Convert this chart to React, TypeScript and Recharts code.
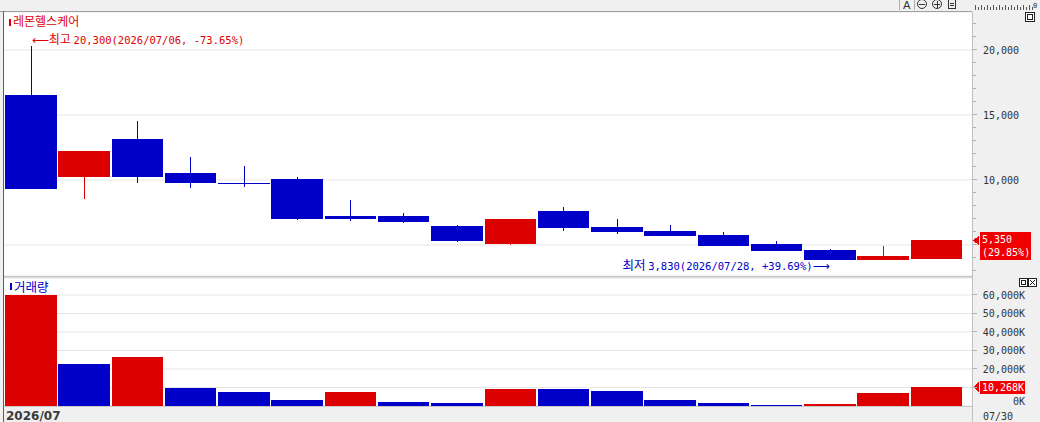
import React from 'react';
import { ComposedChart, Bar, XAxis, YAxis, ReferenceLine, ReferenceDot, CartesianGrid } from 'recharts';

const stockName = '레몬헬스케어';
const volumeName = '거래량';
const monthLabel = '2026/07';
const lastDateLabel = '07/30';

const dates = [
  '2026/07/06', '2026/07/07', '2026/07/08', '2026/07/09', '2026/07/10', '2026/07/13',
  '2026/07/14', '2026/07/15', '2026/07/16', '2026/07/20', '2026/07/21', '2026/07/22',
  '2026/07/23', '2026/07/24', '2026/07/27', '2026/07/28', '2026/07/29', '2026/07/30',
];
const opens = [16550, 10200, 13150, 10550, 9800, 10100, 7250, 7250, 6450, 5100, 7600, 6400, 6100, 5750, 5100, 4600, 3850, 3950];
const highs = [20300, 12250, 14550, 11750, 11100, 10250, 8450, 7450, 6550, 7000, 7900, 7000, 6550, 6000, 5300, 4700, 4900, 5350];
const lows = [9300, 8500, 9800, 9350, 9450, 6950, 6850, 6700, 5250, 5000, 6100, 5850, 5700, 4950, 4550, 3830, 3850, 3950];
const closes = [9300, 12250, 10200, 9800, 9790, 7000, 7000, 6750, 5300, 7000, 6300, 6000, 5700, 4950, 4550, 3850, 4120, 5350];
// volume in thousands of shares (K)
const volumes = [59800, 22700, 26700, 9500, 7400, 3000, 7300, 1900, 1850, 9000, 8950, 7900, 3000, 1400, 800, 900, 6800, 10268];

const priceTicks = [3000, 4000, 5000, 6000, 7000, 8000, 9000, 10000, 11000, 12000, 13000, 14000, 15000, 16000, 17000, 18000, 19000, 20000, 21000, 22000];
const priceGrid = [5000, 10000, 15000, 20000];
const volumeTicks = [0, 10000, 20000, 30000, 40000, 50000, 60000];
const volumeGrid = [10000, 20000, 30000, 40000, 50000, 60000];

const PRICE_DOMAIN = [2615, 22923];
const VOLUME_DOMAIN = [0, 69189];

const RED = '#dc0000';
const BLUE = '#0000c8';
const TAG = '#f00000';
const MONO = "'DejaVu Sans Mono', monospace";
const KR = "'Noto Sans CJK KR', sans-serif";

const rows = dates.map((date, i) => ({
  date,
  open: opens[i],
  high: highs[i],
  low: lows[i],
  close: closes[i],
  range: [lows[i], highs[i]],
  vol: volumes[i],
  volUp: i === 0 || volumes[i] >= volumes[i - 1],
}));

const last = rows[rows.length - 1];
const prev = rows[rows.length - 2];
const dayChange = ((last.close - prev.close) / prev.close) * 100;
const hiRow = rows.reduce((a, b) => (b.high > a.high ? b : a));
const loRow = rows.reduce((a, b) => (b.low < a.low ? b : a));
const fmt = (v: number) => v.toLocaleString('en-US');
const pct = (v: number) => `${v >= 0 ? '+' : ''}${v.toFixed(2)}%`;

const Candle = (props: any) => {
  const { x, width, payload } = props;
  const y = Math.min(props.y, props.y + props.height);
  const h = Math.abs(props.height);
  const { open, close, high, low } = payload;
  const color = close >= open ? RED : BLUE;
  const span = high - low;
  const py = (v: number) => (span === 0 ? y : y + ((high - v) / span) * h);
  const top = py(Math.max(open, close));
  const bot = py(Math.min(open, close));
  const cx = Math.round(x + width / 2) + 0.5;
  return (
    <g shapeRendering="crispEdges">
      <line x1={cx} x2={cx} y1={y} y2={y + h} stroke={color} />
      <rect x={x + 1} y={top} width={width - 1.5} height={Math.max(bot - top, 1.5)} fill={color} />
    </g>
  );
};

const VolBar = (props: any) => {
  const { x, y, width, height, payload } = props;
  return (
    <rect
      x={x + 1}
      y={y}
      width={width - 1.5}
      height={height}
      fill={payload.volUp ? RED : BLUE}
      shapeRendering="crispEdges"
    />
  );
};

// labels hidden behind the current value tag, as in the original
const PriceTick = ({ x, y, payload }: any) => {
  const v = payload.value;
  const major = v % 5000 === 0;
  const covered = Math.abs(v - last.close) < 1000;
  return (
    <g>
      <line x1={x + 1} x2={x + (major ? 5 : 4)} y1={y} y2={y} stroke="#b0b0b0" shapeRendering="crispEdges" />
      {major && !covered && (
        <text x={x + 47} y={y + 4} textAnchor="end" fill="#333" style={{ fontFamily: MONO, fontSize: 10 }}>
          {fmt(v)}
        </text>
      )}
    </g>
  );
};

const VolTick = ({ x, y, payload }: any) => {
  const v = payload.value;
  const covered = Math.abs(v - last.vol) < 5000;
  return (
    <g>
      <line x1={x + 1} x2={x + 5} y1={y} y2={y} stroke="#b0b0b0" shapeRendering="crispEdges" />
      {!covered && (
        <text x={x + 53} y={y + (v === 0 ? -1 : 4)} textAnchor="end" fill="#333" style={{ fontFamily: MONO, fontSize: 10 }}>
          {fmt(v)}K
        </text>
      )}
    </g>
  );
};

const HighLabel = ({ viewBox }: any) => {
  const cx = viewBox.x + viewBox.width / 2;
  const cy = viewBox.y + viewBox.height / 2;
  return (
    <text x={cx + 1} y={cy - 2} fill={RED}>
      <tspan style={{ fontFamily: 'DejaVu Sans', fontSize: 12 }}>⟵</tspan>
      <tspan style={{ fontFamily: KR, fontSize: 12 }}>최고 </tspan>
      <tspan style={{ fontFamily: MONO, fontSize: 10.5 }}>
        {`${fmt(hiRow.high)}(${hiRow.date}, ${pct((last.close / hiRow.high - 1) * 100)})`}
      </tspan>
    </text>
  );
};

const LowLabel = ({ viewBox }: any) => {
  const cx = viewBox.x + viewBox.width / 2;
  const cy = viewBox.y + viewBox.height / 2;
  return (
    <text x={cx} y={cy + 10} fill={BLUE} textAnchor="end">
      <tspan style={{ fontFamily: KR, fontSize: 12.5 }}>최저 </tspan>
      <tspan style={{ fontFamily: MONO, fontSize: 10.5 }}>
        {`${fmt(loRow.low)}(${loRow.date}, ${pct((last.close / loRow.low - 1) * 100)})`}
      </tspan>
      <tspan style={{ fontFamily: 'DejaVu Sans', fontSize: 12 }}>⟶</tspan>
    </text>
  );
};

const PriceTag = ({ viewBox }: any) => {
  const x = viewBox.x + viewBox.width + 1;
  const y = viewBox.y;
  return (
    <g shapeRendering="crispEdges">
      <polygon points={`${x},${y} ${x + 6},${y - 5} ${x + 6},${y + 5}`} fill={TAG} />
      <rect x={x + 7} y={y - 8} width={51} height={28} fill={TAG} />
      <text x={x + 9} y={y + 3} fill="#fff" style={{ fontFamily: MONO, fontSize: 10 }}>{fmt(last.close)}</text>
      <text x={x + 9} y={y + 16} fill="#fff" style={{ fontFamily: MONO, fontSize: 10 }}>{`(${dayChange.toFixed(2)}%)`}</text>
    </g>
  );
};

const VolTag = ({ viewBox }: any) => {
  const x = viewBox.x + viewBox.width + 1;
  const y = viewBox.y;
  return (
    <g shapeRendering="crispEdges">
      <polygon points={`${x},${y} ${x + 6},${y - 5} ${x + 6},${y + 5}`} fill={TAG} />
      <rect x={x + 7} y={y - 6} width={45} height={13} fill={TAG} />
      <text x={x + 9} y={y + 4} fill="#fff" style={{ fontFamily: MONO, fontSize: 10 }}>{`${fmt(last.vol)}K`}</text>
    </g>
  );
};

const Chrome = () => {
  const ruler = [];
  for (let i = 0; i < 20; i++) {
    const x = 975 + i * 3;
    ruler.push(<line key={i} x1={x + 0.5} x2={x + 0.5} y1={i % 2 ? 7 : 5} y2={10} stroke="#555" />);
  }
  return (
    <svg width={1040} height={422} style={{ position: 'absolute', left: 0, top: 0 }} shapeRendering="crispEdges">
      <rect x={0} y={0} width={1040} height={422} fill="#f0f0f0" />
      <rect x={4} y={12} width={968} height={264} fill="#fff" />
      <rect x={4} y={278} width={968} height={128} fill="#fff" />
      <line x1={0} x2={972} y1={11.5} y2={11.5} stroke="#a0a0a0" />
      <line x1={3.5} x2={3.5} y1={11} y2={422} stroke="#606060" />
      <line x1={4} x2={972} y1={276.5} y2={276.5} stroke="#c8c8c8" />
      <line x1={4} x2={972} y1={277.5} y2={277.5} stroke="#dcdcdc" />
      <line x1={4} x2={972} y1={406.5} y2={406.5} stroke="#c8c8c8" />
      <line x1={972.5} x2={972.5} y1={12} y2={422} stroke="#c0c0c0" />
      {/* toolbar */}
      <line x1={899.5} x2={899.5} y1={0} y2={10} stroke="#b0b0b0" />
      <line x1={914.5} x2={914.5} y1={0} y2={10} stroke="#b0b0b0" />
      <text x={903} y={9} fill="#333" style={{ fontFamily: 'DejaVu Sans', fontSize: 11 }}>A</text>
      <circle cx={922} cy={4} r={4.5} fill="none" stroke="#333" shapeRendering="auto" />
      <line x1={919} x2={925} y1={4.5} y2={4.5} stroke="#333" />
      <circle cx={937} cy={4} r={4.5} fill="none" stroke="#333" shapeRendering="auto" />
      <line x1={934} x2={940} y1={4.5} y2={4.5} stroke="#333" />
      <line x1={937.5} x2={937.5} y1={1} y2={8} stroke="#333" />
      <rect x={948.5} y={-2.5} width={7} height={11} fill="none" stroke="#333" />
      <line x1={950} x2={954} y1={3.5} y2={3.5} stroke="#333" />
      <line x1={950} x2={954} y1={5.5} y2={5.5} stroke="#333" />
      {ruler}
      <text x={1033} y={8} fill="#333" style={{ fontFamily: MONO, fontSize: 7 }}>0</text>
      {/* panel buttons */}
      <rect x={1025.5} y={12.5} width={9} height={9} fill="#fff" stroke="#222" />
      <rect x={1027.5} y={14.5} width={5} height={5} fill="none" stroke="#222" />
      <rect x={1019.5} y={278.5} width={8} height={8} fill="#fff" stroke="#222" />
      <rect x={1021.5} y={280.5} width={4} height={4} fill="none" stroke="#222" />
      <rect x={1028.5} y={278.5} width={8} height={8} fill="#fff" stroke="#222" />
      <line x1={1030} x2={1035} y1={280} y2={285} stroke="#222" shapeRendering="auto" />
      <line x1={1035} x2={1030} y1={280} y2={285} stroke="#222" shapeRendering="auto" />
      {/* legends */}
      <rect x={9} y={19} width={2} height={7} fill={RED} />
      <text x={13} y={26} fill={RED} style={{ fontFamily: KR, fontSize: 12 }}>{stockName}</text>
      <rect x={10} y={283} width={2} height={7} fill={BLUE} />
      <text x={14} y={292} fill={BLUE} style={{ fontFamily: KR, fontSize: 12.5 }}>{volumeName}</text>
      {/* time axis */}
      <text x={6} y={420} fill="#3a3a3a" style={{ fontFamily: 'DejaVu Sans', fontSize: 12, fontWeight: 'bold' }}>{monthLabel}</text>
      <text x={983} y={420} fill="#333" style={{ fontFamily: MONO, fontSize: 10 }}>{lastDateLabel}</text>
    </svg>
  );
};

export default function App() {
  return (
    <div style={{ position: 'absolute', left: 0, top: 0, width: 1040, height: 422, overflow: 'hidden' }}>
      <Chrome />
      <div style={{ position: 'absolute', left: 0, top: 12 }}>
        <ComposedChart
          width={1040}
          height={264}
          data={rows}
          margin={{ top: 0, right: 0, bottom: 0, left: 4 }}
          barCategoryGap={0}
          barGap={0}
        >
          <CartesianGrid vertical={false} stroke="#e6e6e6" yAxisId="grid" />
          <XAxis dataKey="date" hide padding={{ left: 0, right: 9 }} />
          <YAxis yAxisId="grid" hide type="number" domain={PRICE_DOMAIN} ticks={priceGrid} interval={0} allowDataOverflow />
          <YAxis
            yAxisId="price"
            orientation="right"
            type="number"
            width={68}
            domain={PRICE_DOMAIN}
            ticks={priceTicks}
            tick={<PriceTick />}
            tickSize={0}
            tickMargin={0}
            tickLine={false}
            axisLine={false}
            interval={0}
            allowDataOverflow
          />
          <Bar yAxisId="price" dataKey="range" shape={<Candle />} isAnimationActive={false} />
          <ReferenceDot yAxisId="price" x={hiRow.date} y={hiRow.high} r={0} fill="none" stroke="none" label={(p: any) => <HighLabel {...p} />} />
          <ReferenceDot yAxisId="price" x={loRow.date} y={loRow.low} r={0} fill="none" stroke="none" label={(p: any) => <LowLabel {...p} />} />
          <ReferenceLine yAxisId="price" y={last.close} stroke="none" label={(p: any) => <PriceTag {...p} />} />
        </ComposedChart>
      </div>
      <div style={{ position: 'absolute', left: 0, top: 278 }}>
        <ComposedChart
          width={1040}
          height={128}
          data={rows}
          margin={{ top: 0, right: 0, bottom: 0, left: 4 }}
          barCategoryGap={0}
          barGap={0}
        >
          <CartesianGrid vertical={false} stroke="#e6e6e6" yAxisId="grid" />
          <XAxis dataKey="date" hide padding={{ left: 0, right: 9 }} />
          <YAxis yAxisId="grid" hide type="number" domain={VOLUME_DOMAIN} ticks={volumeGrid} interval={0} allowDataOverflow />
          <YAxis
            yAxisId="vol"
            orientation="right"
            type="number"
            width={68}
            domain={VOLUME_DOMAIN}
            ticks={volumeTicks}
            tick={<VolTick />}
            tickSize={0}
            tickMargin={0}
            tickLine={false}
            axisLine={false}
            interval={0}
            allowDataOverflow
          />
          <Bar yAxisId="vol" dataKey="vol" shape={<VolBar />} isAnimationActive={false} />
          <ReferenceLine yAxisId="vol" y={last.vol} stroke="none" label={(p: any) => <VolTag {...p} />} />
        </ComposedChart>
      </div>
    </div>
  );
}
